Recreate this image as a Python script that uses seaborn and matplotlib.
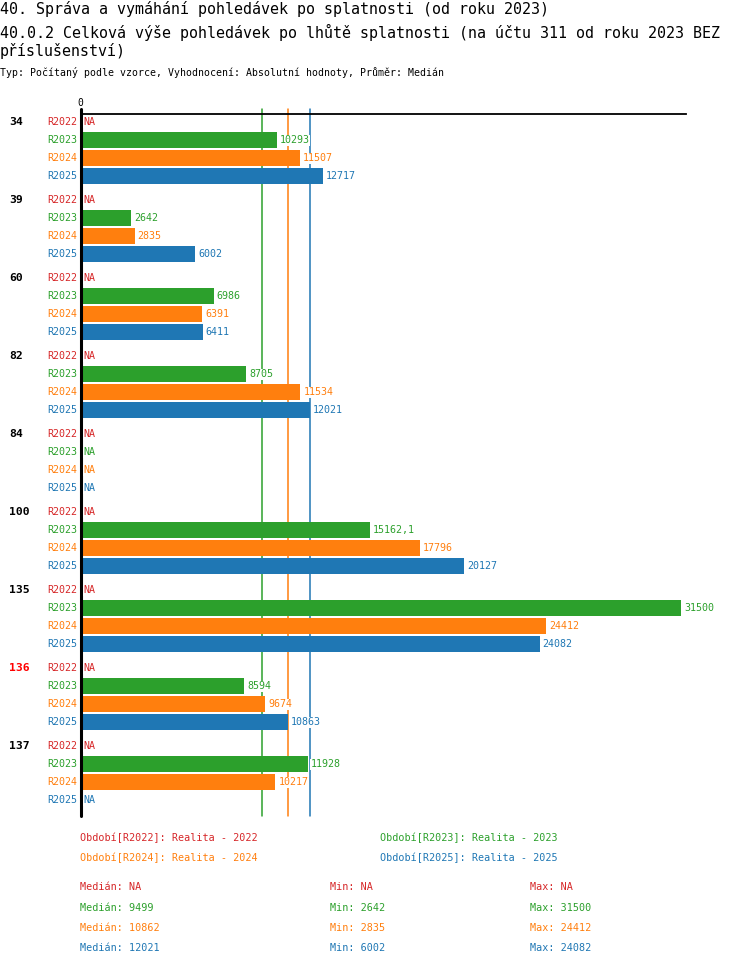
"""
Pohledávky po lhůtě splatnosti - horizontal grouped bars
"""

import numpy as np
import pandas as pd
import matplotlib
matplotlib.use("Agg")
import matplotlib.pyplot as plt
import matplotlib.transforms as mtransforms
import seaborn as sns

groups = ["34", "39", "60", "82", "84", "100", "135", "136", "137"]
periods = ["R2022", "R2023", "R2024", "R2025"]
period_names = ["Realita - 2022", "Realita - 2023", "Realita - 2024", "Realita - 2025"]
colors = ["#d62728", "#2ca02c", "#ff7f0e", "#1f77b4"]
highlight = ["136"]

nan = np.nan
v2022 = [nan, nan, nan, nan, nan, nan, nan, nan, nan]
v2023 = [10293, 2642, 6986, 8705, nan, 15162.1, 31500, 8594, 11928]
v2024 = [11507, 2835, 6391, 11534, nan, 17796, 24412, 9674, 10217]
v2025 = [12717, 6002, 6411, 12021, nan, 20127, 24082, 10863, nan]
series = [v2022, v2023, v2024, v2025]

title1 = "40. Správa a vymáhání pohledávek po splatnosti (od roku 2023)"
title2 = "40.0.2 Celková výše pohledávek po lhůtě splatnosti (na účtu 311 od roku 2023 BEZ"
title3 = "příslušenství)"
subtitle = "Typ: Počítaný podle vzorce, Vyhodnocení: Absolutní hodnoty, Průměr: Medián"


def fmt(v):
    if v is None or np.isnan(v):
        return "NA"
    if float(v).is_integer():
        return str(int(v))
    return str(v).replace(".", ",")


rows = []
for p, vals in zip(periods, series):
    for g, v in zip(groups, vals):
        rows.append({"group": g, "period": p, "value": v})
df = pd.DataFrame(rows)

sns.set_style("white")
plt.rcParams["font.family"] = ["DejaVu Sans Mono", "DejaVu Sans"]
plt.rcParams["text.color"] = "black"

W, H = 750, 966
fig = plt.figure(figsize=(W / 100, H / 100), dpi=100)
ax_left, ax_right, ax_top, ax_bot = 80.5, 686, 114, 816
ax = fig.add_axes([ax_left / W, 1 - ax_bot / H, (ax_right - ax_left) / W, (ax_bot - ax_top) / H])

width = 72 / 78
sns.barplot(data=df, x="value", y="group", hue="period", order=groups, hue_order=periods,
            palette=colors, orient="h", width=width, gap=0.11, errorbar=None,
            saturation=1, legend=False, ax=ax, zorder=3, linewidth=0, edgecolor="none")

px_per_unit = 0.019065
ax.set_xlim(0, (ax_right - ax_left) / px_per_unit)
ax.set_ylim(len(groups) - 1 + 43 / 78, -35 / 78)
ax.set_xlabel("")
ax.set_ylabel("")
ax.set_xticks([])
ax.set_yticks([])
for s in ["left", "right", "bottom"]:
    ax.spines[s].set_visible(False)
ax.spines["top"].set_color("black")
ax.spines["top"].set_linewidth(1.3)

axis_h = ax_bot - ax_top
xt = ax.get_xaxis_transform()
ext = 1 + 5 / axis_h

# median lines behind the bars
medians = []
for k, vals in enumerate(series):
    arr = np.array(vals, dtype=float)
    if np.all(np.isnan(arr)):
        medians.append(nan)
        continue
    med = np.nanmedian(arr)
    medians.append(med)
    ax.plot([med, med], [0, ext], transform=xt, color=colors[k], lw=1.1,
            clip_on=False, zorder=1)

# zero axis
ax.plot([0, 0], [0, ext], transform=xt, color="black", lw=2.2, clip_on=False, zorder=5)
ax.text(0, 1 + 11 / axis_h, "0", transform=xt, ha="center", va="center", fontsize=7)

step = width / len(periods)
lab_fs = 7.2
gtrans = mtransforms.blended_transform_factory(fig.transFigure, ax.transData)
for i, g in enumerate(groups):
    for k, p in enumerate(periods):
        y = i + (k - (len(periods) - 1) / 2) * step
        v = series[k][i]
        ax.annotate(p, xy=(0, y), xytext=(-3, 0), textcoords="offset pixels",
                    ha="right", va="center", fontsize=lab_fs, color=colors[k],
                    annotation_clip=False)
        xv = 0 if np.isnan(v) else v
        ax.annotate(fmt(v), xy=(xv, y), xytext=(3, 0), textcoords="offset pixels",
                    ha="left", va="center", fontsize=lab_fs, color=colors[k], zorder=6,
                    bbox=dict(boxstyle="square,pad=0.05", fc="white", ec="none"),
                    annotation_clip=False)
    y0 = i - (len(periods) - 1) / 2 * step
    ax.text(9 / W, y0, g, transform=gtrans, ha="left", va="center", fontsize=8.2,
            fontweight="bold", color="red" if g in highlight else "black")

# titles
fig.text(0, 1 - 9 / H, title1, ha="left", va="center", fontsize=10.8)
fig.text(0, 1 - 32 / H, title2, ha="left", va="center", fontsize=10.8)
fig.text(0, 1 - 51 / H, title3, ha="left", va="center", fontsize=10.8)
fig.text(0, 1 - 73 / H, subtitle, ha="left", va="center", fontsize=7.1)

# legend
leg_x = [80, 380]
leg_y = [838, 858]
for k, (p, name) in enumerate(zip(periods, period_names)):
    fig.text(leg_x[k % 2] / W, 1 - leg_y[k // 2] / H, f"Období[{p}]: {name}",
             ha="left", va="center", fontsize=7.3, color=colors[k])

# stats
stat_y = [887, 908, 928, 948]
for k, vals in enumerate(series):
    arr = np.array(vals, dtype=float)
    if np.all(np.isnan(arr)):
        mn = mx = nan
    else:
        mn, mx = np.nanmin(arr), np.nanmax(arr)
    yy = 1 - stat_y[k] / H
    fig.text(80 / W, yy, f"Medián: {fmt(medians[k])}", ha="left", va="center",
             fontsize=7.3, color=colors[k])
    fig.text(330 / W, yy, f"Min: {fmt(mn)}", ha="left", va="center",
             fontsize=7.3, color=colors[k])
    fig.text(530 / W, yy, f"Max: {fmt(mx)}", ha="left", va="center",
             fontsize=7.3, color=colors[k])

fig.savefig("out.png", dpi=100)
